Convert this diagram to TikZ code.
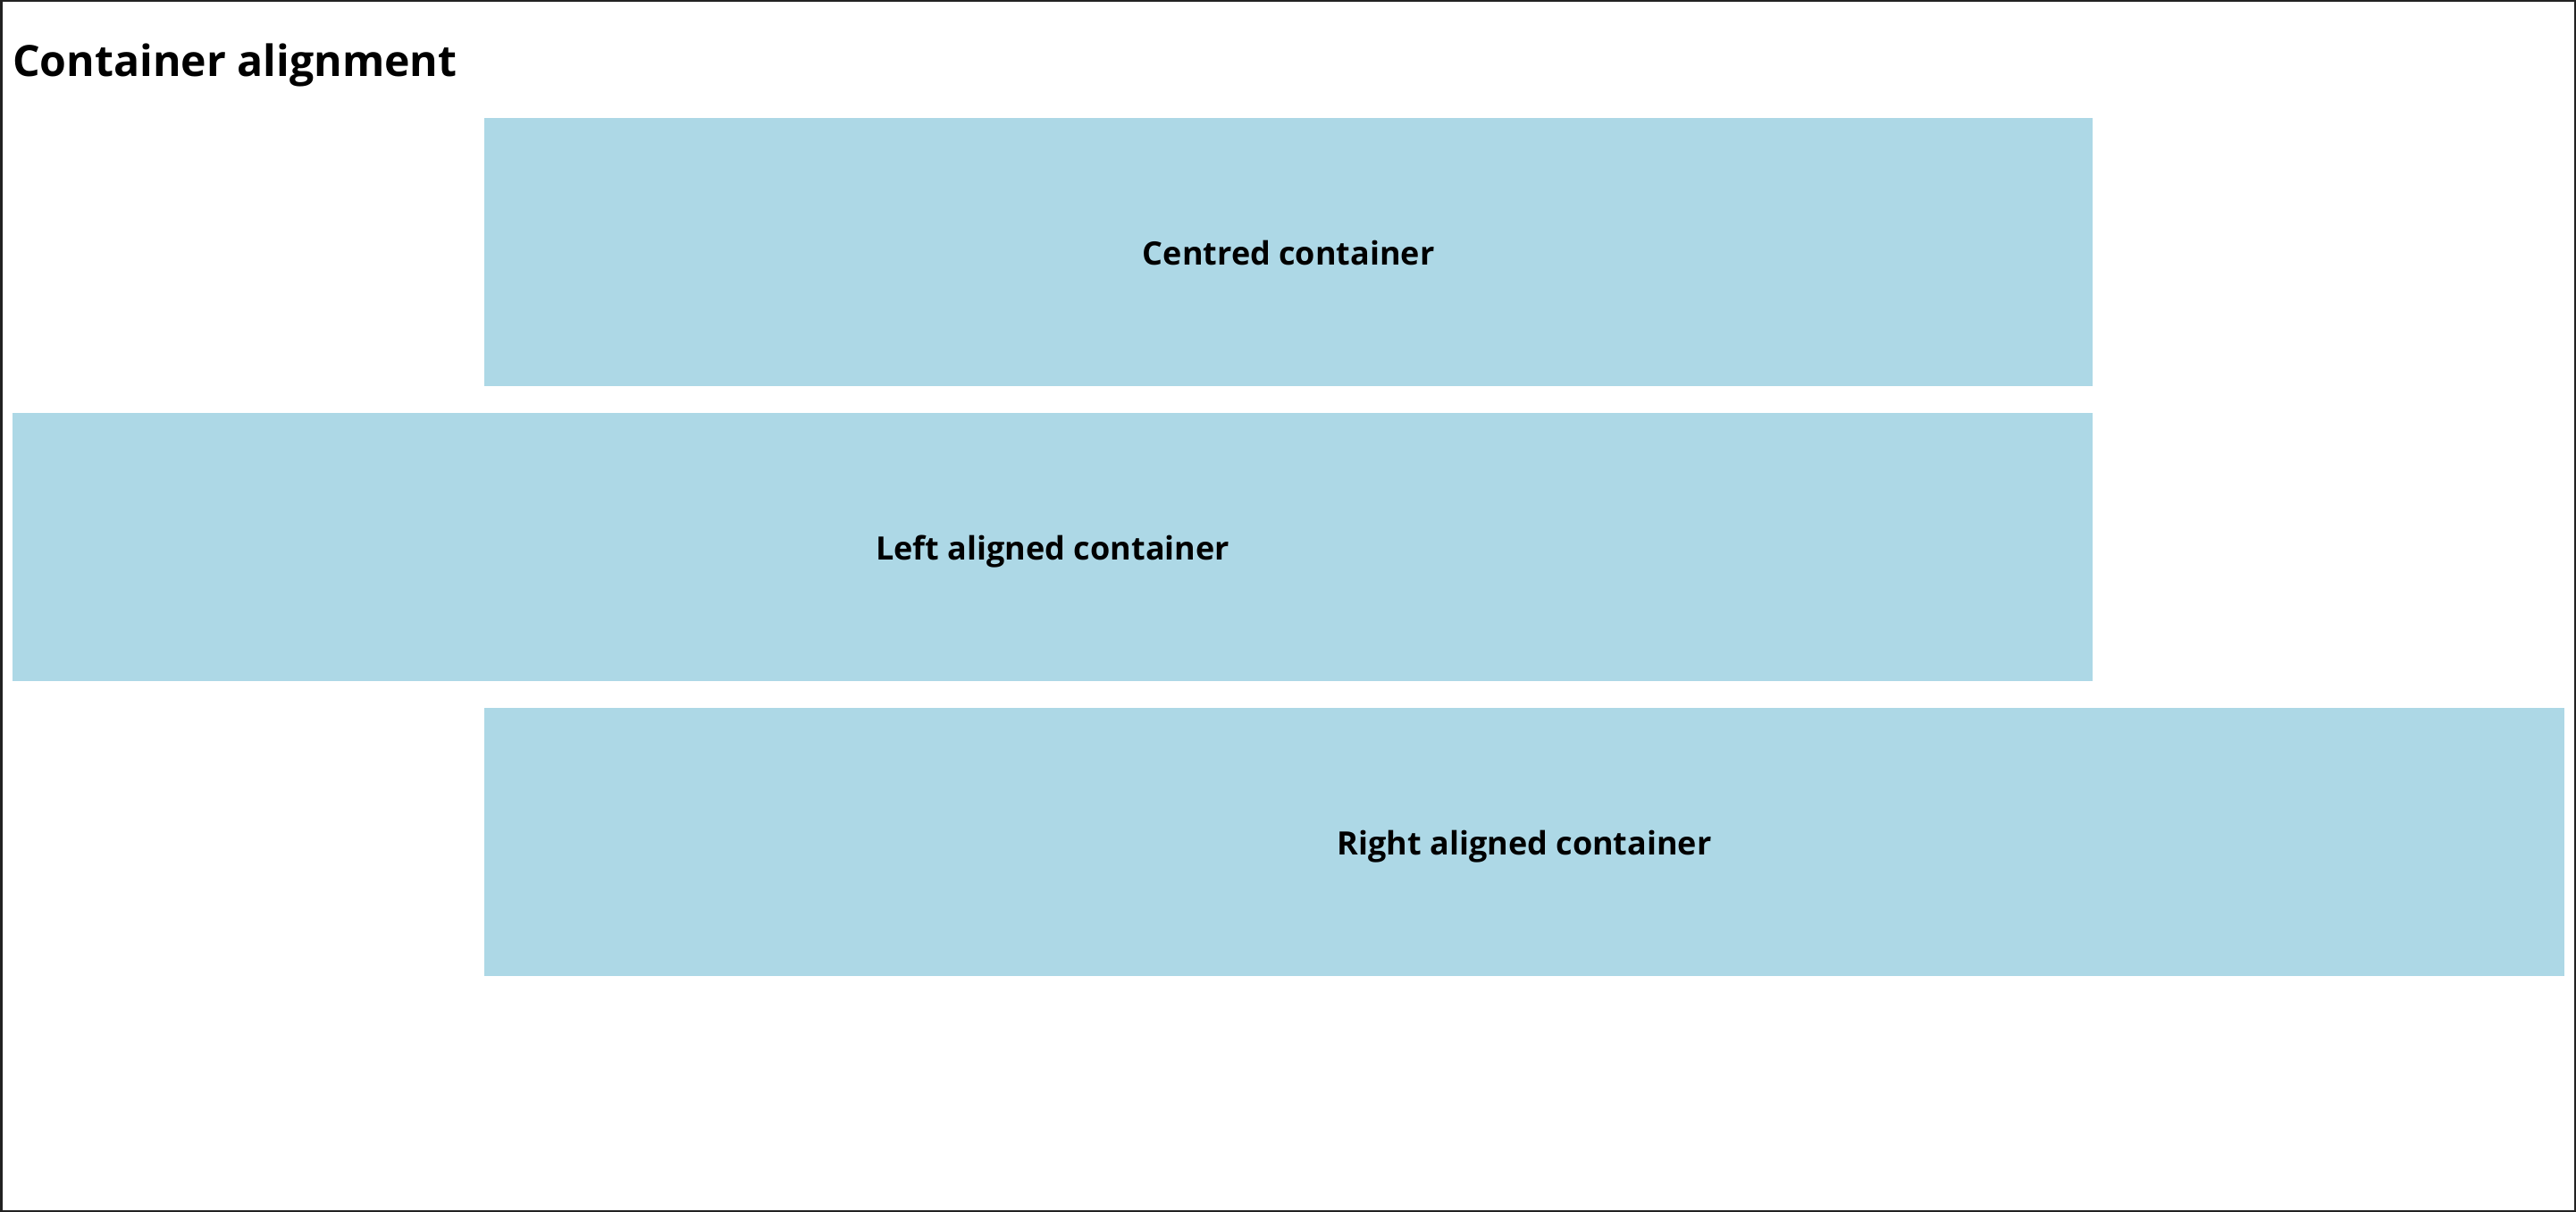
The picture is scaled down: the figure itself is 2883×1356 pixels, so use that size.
\documentclass[tikz,border=0pt]{standalone}
\usepackage{fontspec}
\setmainfont{Open Sans}
\definecolor{boxblue}{HTML}{ADD8E6}
\definecolor{frame}{HTML}{222222}
\begin{document}
\begin{tikzpicture}[x=1pt,y=-1pt,
  container/.style={fill=boxblue, draw=none, inner sep=0pt, minimum height=300pt, anchor=north west,
    text height=38.5pt, text depth=10.5pt,
    font=\fontsize{36}{43}\selectfont\bfseries, text=black},
  titletext/.style={anchor=base west, inner sep=0pt, font=\fontsize{48.2}{58}\selectfont\bfseries, text=black}]
\useasboundingbox (0,0) rectangle (2883,1356);
\fill[white] (0,0) rectangle (2883,1356);
\draw[frame, line width=2.5pt] (1.25,1.25) rectangle (2881.75,1354.75);
\node[titletext] (title) at (14,86) {Container alignment};
\node[container, minimum width=1800pt] (centred) at (542,132) {Centred container};
\node[container, minimum width=2328pt] (left) at (14,462) {Left aligned container};
\node[container, minimum width=2328pt] (right) at (542,792) {Right aligned container};
\end{tikzpicture}
\end{document}
